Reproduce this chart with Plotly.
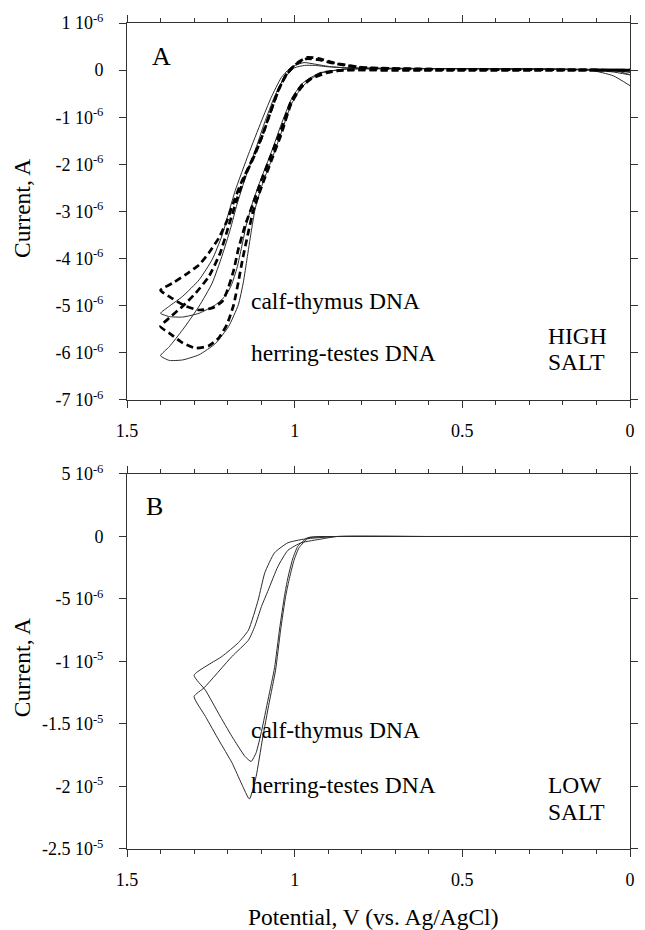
import numpy as np
import plotly.graph_objects as go

# ---------------- DATA ----------------
# Panel A (HIGH SALT): potential (V) and current (uA); scan 0 -> 1.4 V -> 0
a_solid_herring_V = [0.00, 0.05, 0.12, 0.40, 0.70, 0.85, 0.92, 0.952, 0.981, 1.011, 1.04, 1.07, 1.085, 1.10, 1.118,
                     1.13, 1.142, 1.153, 1.168, 1.197, 1.236, 1.285, 1.334, 1.374, 1.40,
                     1.374, 1.334, 1.285, 1.246, 1.217, 1.192, 1.172, 1.15, 1.12, 1.09, 1.06, 1.03, 1.00, 0.97,
                     0.94, 0.90, 0.85, 0.75, 0.50, 0.20, 0.05, 0.00]
a_solid_herring_I = [-0.33, -0.12, 0.00, 0.03, 0.03, 0.02, -0.06, -0.19, -0.38, -0.74, -1.33, -1.93, -2.2, -2.5, -2.95,
                     -3.45, -4.00, -4.50, -4.98, -5.44, -5.80, -6.04, -6.15, -6.16, -6.06,
                     -5.87, -5.51, -5.01, -4.52, -3.95, -3.38, -2.85, -2.35, -1.75, -1.12, -0.56, -0.15, 0.05, 0.10,
                     0.10, 0.07, 0.05, 0.04, 0.03, 0.02, 0.00, -0.05]

a_solid_calf_V = [0.00, 0.05, 0.12, 0.40, 0.70, 0.85, 0.92, 0.95, 0.98, 1.01, 1.04, 1.07, 1.10, 1.125, 1.143, 1.158,
                  1.172, 1.188, 1.205, 1.236, 1.285, 1.334, 1.374, 1.40,
                  1.374, 1.334, 1.285, 1.246, 1.217, 1.197, 1.177, 1.138, 1.099, 1.07, 1.04, 1.011, 0.972, 0.942,
                  0.90, 0.85, 0.75, 0.50, 0.20, 0.05, 0.00]
a_solid_calf_I = [-0.10, -0.04, 0.00, 0.03, 0.03, 0.02, -0.05, -0.15, -0.30, -0.62, -1.15, -1.75, -2.30, -2.80, -3.25,
                  -3.75, -4.20, -4.55, -4.78, -4.98, -5.16, -5.24, -5.23, -5.16,
                  -5.01, -4.80, -4.45, -4.02, -3.52, -3.03, -2.55, -1.79, -1.08, -0.58, -0.16, 0.06, 0.16, 0.13,
                  0.08, 0.05, 0.04, 0.03, 0.02, 0.00, -0.10]

a_dash_calf_V = [0.00, 0.10, 0.40, 0.70, 0.85, 0.92, 0.95, 0.98, 1.01, 1.04, 1.07, 1.10, 1.125, 1.148, 1.168, 1.182,
                 1.198, 1.215, 1.246, 1.285, 1.325, 1.364, 1.40,
                 1.364, 1.325, 1.285, 1.256, 1.226, 1.202, 1.182, 1.16, 1.13, 1.10, 1.075, 1.05, 1.025, 0.995,
                 0.965, 0.93, 0.88, 0.80, 0.60, 0.30, 0.00]
a_dash_calf_I = [0.00, 0.00, 0.00, 0.00, 0.00, -0.06, -0.17, -0.33, -0.65, -1.25, -1.80, -2.35, -2.85, -3.30, -3.80,
                 -4.25, -4.62, -4.90, -5.05, -5.09, -5.01, -4.85, -4.67,
                 -4.52, -4.34, -4.13, -3.88, -3.56, -3.20, -2.80, -2.40, -1.95, -1.45, -0.95, -0.45, -0.10, 0.13,
                 0.24, 0.22, 0.14, 0.05, 0.02, 0.01, 0.00]

a_dash_herring_V = [0.00, 0.10, 0.40, 0.70, 0.854, 0.90, 0.952, 0.981, 1.011, 1.04, 1.07, 1.10, 1.124, 1.14, 1.155,
                    1.168, 1.182, 1.202, 1.226, 1.256, 1.295, 1.334, 1.374, 1.40,
                    1.374, 1.334, 1.295, 1.256, 1.222, 1.197, 1.172, 1.148, 1.119, 1.094, 1.07, 1.045, 1.021, 0.991,
                    0.962, 0.93, 0.88, 0.80, 0.60, 0.30, 0.00]
a_dash_herring_I = [0.00, 0.00, 0.00, 0.00, 0.00, -0.05, -0.19, -0.37, -0.72, -1.36, -1.93, -2.50, -3.00, -3.50, -4.00,
                    -4.50, -4.98, -5.40, -5.68, -5.85, -5.90, -5.79, -5.58, -5.44,
                    -5.26, -5.01, -4.73, -4.38, -3.88, -3.31, -2.74, -2.25, -1.80, -1.35, -0.85, -0.37, -0.05, 0.16,
                    0.27, 0.25, 0.15, 0.06, 0.02, 0.01, 0.00]

# Panel B (LOW SALT): scan 0 -> 1.3 V -> 0
b_calf_V = [0.00, 0.30, 0.60, 0.85, 0.93, 0.962, 0.991, 1.006, 1.021, 1.03, 1.045, 1.06, 1.079, 1.099, 1.115, 1.13,
            1.148, 1.187, 1.226, 1.266, 1.30,
            1.217, 1.168, 1.138, 1.109, 1.089, 1.06, 1.02, 0.97, 0.874, 0.60, 0.30, 0.00]
b_calf_I = [0.0, 0.0, 0.0, 0.0, -0.02, -0.10, -0.80, -1.80, -3.40, -4.70, -7.40, -10.5, -13.0, -15.6, -17.3, -18.0,
            -17.6, -16.0, -14.2, -12.3, -11.1,
            -9.6, -8.5, -7.5, -5.1, -2.9, -1.3, -0.5, -0.2, 0.0, 0.0, 0.0, 0.0]

b_herring_V = [0.00, 0.30, 0.60, 0.85, 0.93, 0.958, 0.987, 1.002, 1.017, 1.027, 1.042, 1.057, 1.076, 1.096, 1.115,
               1.135, 1.158, 1.187, 1.226, 1.266, 1.30,
               1.27, 1.187, 1.138, 1.119, 1.099, 1.079, 1.05, 1.02, 0.98, 0.92, 0.874, 0.60, 0.30, 0.00]
b_herring_I = [0.0, 0.0, 0.0, 0.0, -0.02, -0.10, -0.90, -1.90, -3.50, -4.80, -7.50, -10.7, -13.3, -16.2, -19.2,
               -21.0, -19.8, -18.1, -16.3, -14.4, -12.8,
               -12.1, -9.6, -8.3, -7.2, -5.6, -4.3, -2.4, -1.1, -0.5, -0.2, 0.0, 0.0, 0.0, 0.0]

# Tick labels
x_tickvals = [1.5, 1.0, 0.5, 0.0]
x_ticktext = ["1.5", "1", "0.5", "0"]
a_tickvals = [1e-6, 0, -1e-6, -2e-6, -3e-6, -4e-6, -5e-6, -6e-6, -7e-6]
a_ticktext = ["1 10<sup>-6</sup>", "0", "-1 10<sup>-6</sup>", "-2 10<sup>-6</sup>", "-3 10<sup>-6</sup>",
              "-4 10<sup>-6</sup>", "-5 10<sup>-6</sup>", "-6 10<sup>-6</sup>", "-7 10<sup>-6</sup>"]
b_tickvals = [5e-6, 0, -5e-6, -1e-5, -1.5e-5, -2e-5, -2.5e-5]
b_ticktext = ["5 10<sup>-6</sup>", "0", "-5 10<sup>-6</sup>", "-1 10<sup>-5</sup>", "-1.5 10<sup>-5</sup>",
              "-2 10<sup>-5</sup>", "-2.5 10<sup>-5</sup>"]

# ---------------- FIGURE ----------------
FONT = "Liberation Serif, Times New Roman, serif"
uA = 1e-6
solid = dict(color="#2a2a2a", width=1)
dashed = dict(color="black", width=2.7, dash="7px,4px")

fig = go.Figure()

def add(V, I, line, xa, ya):
    fig.add_trace(go.Scatter(x=V, y=np.array(I) * uA, mode="lines", line=dict(**line, shape="spline", smoothing=0.5),
                             xaxis=xa, yaxis=ya, showlegend=False, hoverinfo="skip"))

add(a_solid_herring_V, a_solid_herring_I, solid, "x", "y")
add(a_solid_calf_V, a_solid_calf_I, solid, "x", "y")
add(a_dash_calf_V, a_dash_calf_I, dashed, "x", "y")
add(a_dash_herring_V, a_dash_herring_I, dashed, "x", "y")
add(b_calf_V, b_calf_I, solid, "x2", "y2")
add(b_herring_V, b_herring_I, solid, "x2", "y2")

axis_common = dict(showline=True, linecolor="#333", linewidth=1, mirror="ticks", ticks="outside",
                   ticklen=7, tickcolor="#333", showgrid=False, zeroline=False,
                   tickfont=dict(family=FONT, size=18, color="black"))

xa = dict(axis_common, range=[1.5, 0], tickvals=x_tickvals, ticktext=x_ticktext,
          minor=dict(dtick=0.1, tick0=0, ticks="outside", ticklen=4, tickcolor="#333"),
          ticklabelstandoff=7)
fig.update_layout(
    width=645, height=930,
    margin=dict(l=127, r=7, t=23, b=81),
    paper_bgcolor="white", plot_bgcolor="white",
    xaxis=dict(xa, domain=[0, 1], anchor="y"),
    yaxis=dict(axis_common, domain=[0.5436, 1.0], range=[-7e-6, 1e-6], tickvals=a_tickvals,
               ticktext=a_ticktext, anchor="x", ticklabelstandoff=12),
    xaxis2=dict(xa, domain=[0, 1], anchor="y2"),
    yaxis2=dict(axis_common, domain=[0.0, 0.454], range=[-2.5e-5, 5e-6], tickvals=b_tickvals,
                ticktext=b_ticktext, anchor="x2", ticklabelstandoff=12),
)

tf = dict(family=FONT, size=23.5, color="black")

def txt(x, y, s, xr, yr, **kw):
    return dict(x=x, y=y, xref=xr, yref=yr, text=s, showarrow=False, xanchor="left", yanchor="middle",
                font=kw.pop("font", tf), **kw)

ann = [
    txt(1.432, 0.28e-6, "A", "x", "y", font=dict(family=FONT, size=26, color="black")),
    txt(1.135, -4.9e-6, "calf-thymus DNA", "x", "y"),
    txt(1.135, -6.0e-6, "herring-testes DNA", "x", "y"),
    txt(0.25, -5.64e-6, "HIGH", "x", "y"),
    txt(0.25, -6.19e-6, "SALT", "x", "y"),
    txt(1.45, 2.4e-6, "B", "x2", "y2", font=dict(family=FONT, size=26, color="black")),
    txt(1.135, -15.5e-6, "calf-thymus DNA", "x2", "y2"),
    txt(1.135, -19.9e-6, "herring-testes DNA", "x2", "y2"),
    txt(0.25, -19.9e-6, "LOW", "x2", "y2"),
    txt(0.25, -22.05e-6, "SALT", "x2", "y2"),
    dict(x=-0.209, y=0.776, xref="paper", yref="paper", text="Current, A", textangle=-90, showarrow=False,
         xanchor="center", yanchor="middle", font=tf),
    dict(x=-0.209, y=0.220, xref="paper", yref="paper", text="Current, A", textangle=-90, showarrow=False,
         xanchor="center", yanchor="middle", font=tf),
    dict(x=0.49, y=-0.082, xref="paper", yref="paper", text="Potential, V (vs. Ag/AgCl)", showarrow=False,
         xanchor="center", yanchor="middle", font=tf),
]
fig.update_layout(annotations=ann)

fig.write_html("out.html", config={"displayModeBar": False},
               post_script="document.body.style.margin='0';document.body.style.padding='0';"
                           "document.body.style.overflow='hidden';")
